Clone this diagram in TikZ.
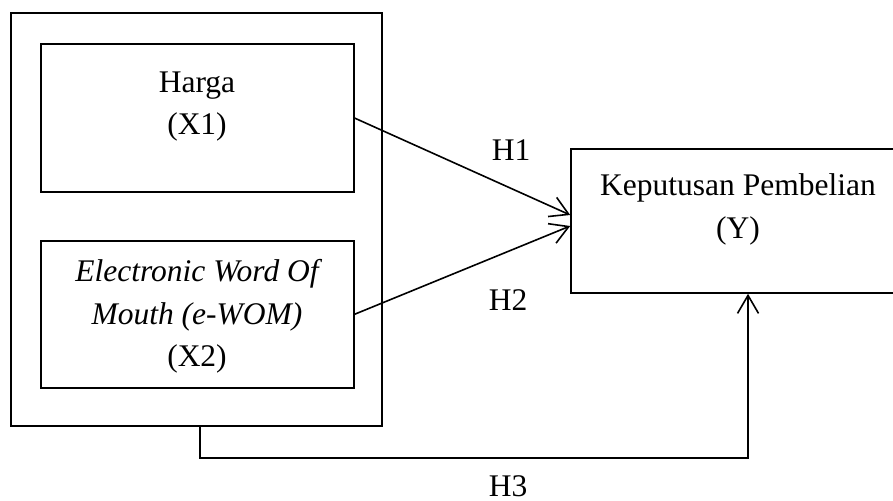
\documentclass[tikz,border=0pt]{standalone}
\usepackage{fontspec}
\setmainfont{Liberation Serif}
\usetikzlibrary{arrows.meta}
\begin{document}
\begin{tikzpicture}[x=1pt,y=-1pt,
 box/.style={draw, line width=1.6pt, inner sep=0pt},
 txt/.style={inner sep=0pt, anchor=base, font=\fontsize{31.5}{40}\selectfont},
 arr/.style={line width=1.6pt, -{Straight Barb[length=18pt,width=21pt,line width=1.6pt]}}]
\useasboundingbox (0,0) rectangle (893,500);
\clip (0,0) rectangle (893,500);
\node[box, minimum width=371pt, minimum height=413pt] (outer) at (196.5,219.5) {};
\node[box, minimum width=313.3pt, minimum height=147.7pt] (x1) at (197.35,118.15) {};
\node[box, minimum width=313.3pt, minimum height=147pt] (x2) at (197.35,314.2) {};
\node[box, minimum width=334pt, minimum height=144pt] (ybox) at (738,221) {};
\node[txt] (t1a) at (197,92.3) {Harga};
\node[txt] (t1b) at (197,135) {(X1)};
\node[txt] (t2a) at (197,281.7) {\itshape Electronic Word Of};
\node[txt] (t2b) at (197,324) {\itshape Mouth (e-WOM)};
\node[txt] (t2c) at (197,366.7) {(X2)};
\node[txt] (t3a) at (738,195) {Keputusan Pembelian};
\node[txt] (t3b) at (738,238.3) {(Y)};
\node[txt] (h1) at (511,160) {H1};
\node[txt] (h2) at (508,310) {H2};
\node[txt] (h3) at (508,496) {H3};
\draw[arr] (x1.east) -- ([yshift=6pt]ybox.west);
\draw[arr] (x2.east) -- ([yshift=-5pt]ybox.west);
\coordinate (turn) at (200,457.7);
\draw[arr] ([xshift=3.5pt]outer.south) -- (turn) -| ([xshift=10pt]ybox.south);
\end{tikzpicture}
\end{document}
